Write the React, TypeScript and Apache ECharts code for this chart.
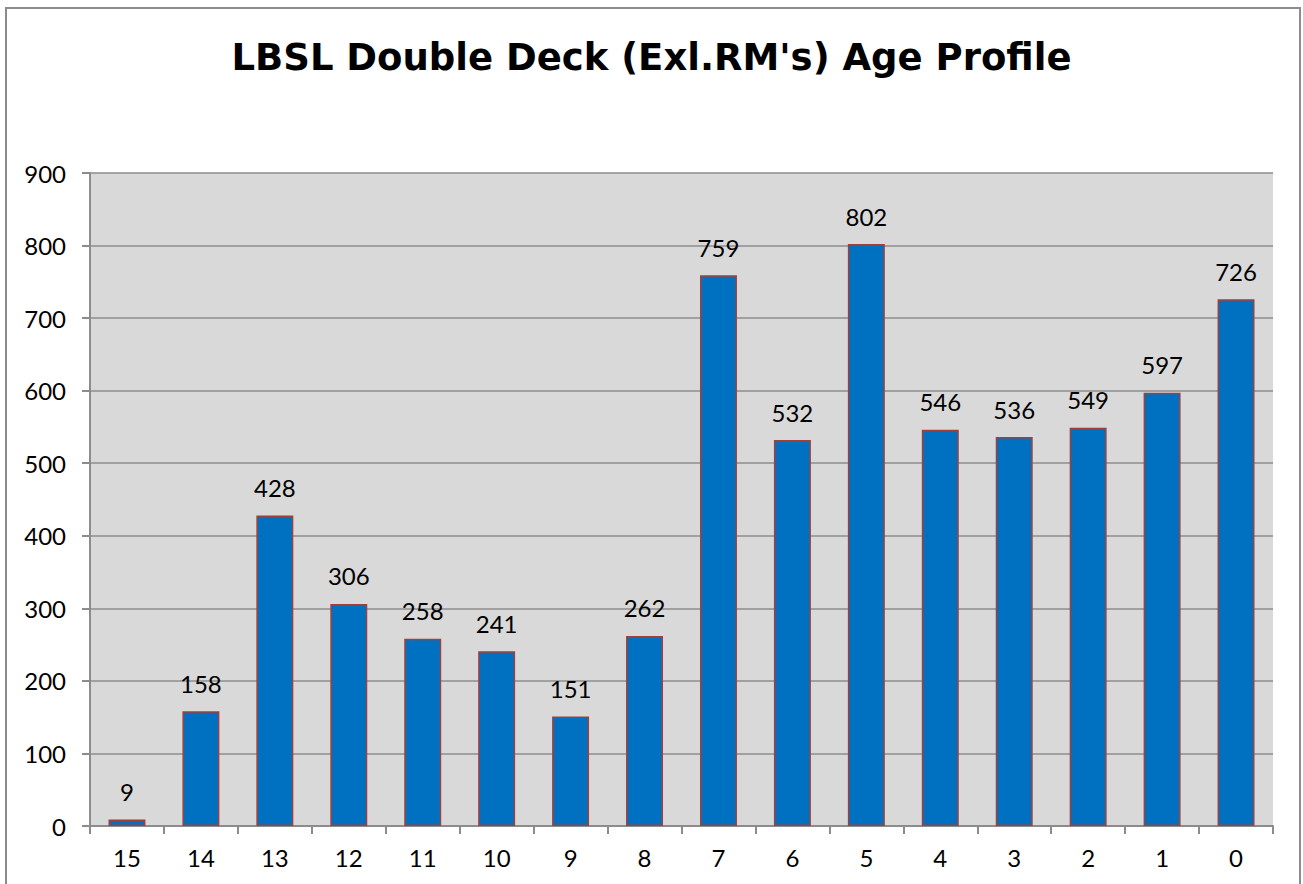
import React, { useEffect, useRef } from "react";
import * as echarts from "echarts";

const categories = ["15", "14", "13", "12", "11", "10", "9", "8", "7", "6", "5", "4", "3", "2", "1", "0"];
const values = [9, 158, 428, 306, 258, 241, 151, 262, 759, 532, 802, 546, 536, 549, 597, 726];
const titleText = "LBSL Double Deck (Exl.RM's) Age Profile";

const FONT = "Lato, 'Open Sans', sans-serif";

export default function App() {
  const ref = useRef<HTMLDivElement>(null);
  useEffect(() => {
    if (!ref.current) return;
    const chart = echarts.init(ref.current, null, { renderer: "svg" });
    chart.setOption({
      animation: false,
      backgroundColor: "#ffffff",
      title: {
        text: titleText,
        left: "center",
        top: 34,
        textStyle: { fontFamily: "'DejaVu Sans', sans-serif", fontSize: 37, fontWeight: "bold", color: "#000" },
      },
      graphic: [
        {
          type: "rect",
          shape: { x: 6, y: 8, width: 1294, height: 900 },
          style: { fill: "none", stroke: "#8c8c8c", lineWidth: 2 },
          silent: true,
        },
      ],
      grid: { left: 90, right: 30, top: 173, bottom: 58, backgroundColor: "#D9D9D9", show: true, borderWidth: 0 },
      xAxis: {
        type: "category",
        data: categories,
        axisLine: { lineStyle: { color: "#8c8c8c", width: 2 } },
        axisTick: { show: true, length: 8, lineStyle: { color: "#8c8c8c", width: 2 } },
        axisLabel: { fontFamily: FONT, fontSize: 24, color: "#000", margin: 19 },
      },
      yAxis: {
        type: "value",
        min: 0,
        max: 900,
        interval: 100,
        axisLine: { show: true, lineStyle: { color: "#8c8c8c", width: 2 } },
        axisTick: { show: true, length: 8, lineStyle: { color: "#8c8c8c", width: 2 } },
        axisLabel: { fontFamily: FONT, fontSize: 24, color: "#000", margin: 24 },
        splitLine: { lineStyle: { color: "#8c8c8c", width: 1.5 } },
      },
      series: [
        {
          type: "bar",
          data: values,
          barWidth: "50%",
          itemStyle: { color: "#0070C0", borderColor: "#A0403C", borderWidth: 1.5 },
          label: {
            show: true,
            position: "top",
            distance: 16,
            fontFamily: FONT,
            fontSize: 24,
            color: "#000",
          },
        },
      ],
    });
    return () => chart.dispose();
  }, []);
  return (
    <div
      ref={ref}
      style={{ position: "absolute", left: 0, top: 0, width: 1303, height: 884 }}
    />
  );
}
